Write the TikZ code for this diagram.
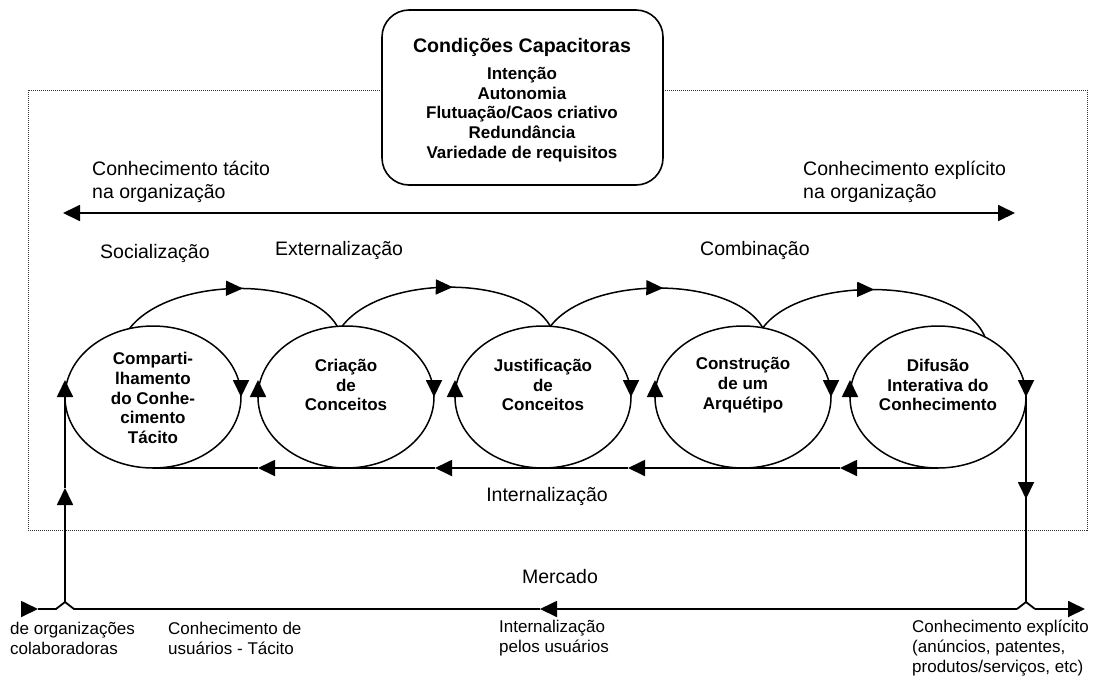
\documentclass[tikz,border=0pt]{standalone}
\usepackage{fontspec}
\setmainfont{Liberation Sans}
\usetikzlibrary{arrows.meta,shapes.geometric,decorations.markings,calc}

\begin{document}
\begin{tikzpicture}[x=1pt,y=-1pt,
  bigtri/.tip={Triangle[length=17pt,width=16pt]},
  line/.style={line width=1.8pt},
  flow/.style={line width=1.8pt,-{bigtri}},
  cyc/.style={ellipse,draw,line width=1.5pt,minimum width=176pt,minimum height=142pt,inner sep=0pt,outer sep=0pt},
  ctext/.style={font=\fontsize{17}{19.7}\selectfont\bfseries,align=center,inner sep=0pt},
  lbl/.style={font=\fontsize{19.5}{23}\selectfont,align=left,inner sep=0pt},
  small/.style={font=\fontsize{17}{20}\selectfont,align=left,inner sep=0pt},
  arcflow/.style={line width=1.5pt,postaction={decorate},
    decoration={markings,mark=at position #1 with {\arrow{Triangle[length=17pt,width=15pt]}}}},
  frame/.style={line width=1pt,dash pattern=on 1pt off 1pt,black!80}
]
\useasboundingbox (0,0) rectangle (1094,678);

% organisation boundary
\draw[frame] (28,90) rectangle (1087,530);

% enabling conditions
\node[draw,fill=white,line width=1.6pt,rounded corners=27pt,minimum width=281pt,minimum height=175pt,inner sep=0pt] (cap) at (522.5,97.5) {};
\node[font=\fontsize{19.6}{23}\selectfont\bfseries,inner sep=0pt] (captitle) at (522,47) {Condições Capacitoras};
\node[ctext] (caplist) at (522,114.5) {Intenção\\Autonomia\\Flutuação/Caos criativo\\Redundância\\Variedade de requisitos};

% tacit / explicit axis
\coordinate (axL) at (63,213);
\coordinate (axR) at (1015,213);
\draw[line,{bigtri}-{bigtri}] (axL) -- (axR);
\node[lbl,anchor=west] (ktac) at (92,181.5) {Conhecimento tácito\\na organização};
\node[lbl,anchor=west] (kexp) at (803,181.5) {Conhecimento explícito\\na organização};

\node[lbl,anchor=west] (soc) at (100,253) {Socialização};
\node[lbl,anchor=west] (ext) at (275,250) {Externalização};
\node[lbl,anchor=west] (comb) at (700,250) {Combinação};

% the five phases
\node[cyc] (e1) at (153,397) {};
\node[cyc] (e2) at (346,397) {};
\node[cyc] (e3) at (543,397) {};
\node[cyc] (e4) at (743,397) {};
\node[cyc] (e5) at (938,397) {};

\node[ctext] (t1) at (153,398) {Comparti-\\lhamento\\do Conhe-\\cimento\\Tácito};
\node[ctext] (t2) at (346,385) {Criação\\de\\Conceitos};
\node[ctext] (t3) at (543,385) {Justificação\\de\\Conceitos};
\node[ctext] (t4) at (743,385) {Construção\\de um\\Arquétipo};
\node[ctext] (t5) at (938,385) {Difusão\\Interativa do\\Conhecimento};

% arrowheads on each phase loop
\foreach \e in {e1,e2,e3,e4,e5}{
  \draw[flow] ($(\e.east)+(0,-16)$) -- (\e.east);
  \draw[flow] (\e.west) -- ($(\e.west)+(0,-17)$);
}

% transitions between phases
\draw[arcflow=0.54] (e1.109) .. controls ($(e1.109)+(40,-52)$) and ($(e2.97)+(-30,-52)$) .. (e2.97);
\draw[arcflow=0.525] (e2.93) .. controls ($(e2.93)+(40,-52)$) and ($(e3.84)+(-30,-52)$) .. (e3.84);
\draw[arcflow=0.525] (e3.84) .. controls ($(e3.84)+(40,-52)$) and ($(e4.74)+(-30,-52)$) .. (e4.74);
\draw[arcflow=0.49] (e4.74) .. controls ($(e4.74)+(40,-54)$) and ($(e5.52)+(-25,-60)$) .. (e5.52);

% internalisation return line
\coordinate (i1) at (840,468);
\coordinate (i2) at (628,468);
\coordinate (i3) at (435,468);
\coordinate (i4) at (258,468);
\draw[flow] (e5.south) -- (i1);
\draw[flow] (i1) -- (i2);
\draw[flow] (i2) -- (i3);
\draw[flow] (i3) -- (i4);
\draw[line] (i4) -- (e1.south);
\node[lbl] (intl) at (547,496) {Internalização};

% market line
\coordinate (bL) at (21,609);
\coordinate (bLtip) at (38,609);
\coordinate (hL) at (65,602);
\coordinate (hR) at (1026,602);
\coordinate (bM) at (540,609);
\coordinate (bR) at (1085,609);
\draw[flow] (bL) -- (bLtip);
\draw[line] (bLtip) -- (56,609) -- (hL) -- (74,609) -- (bM);
\draw[flow] (1017,609) -- (bM);
\draw[line] (1017,609) -- (hR) -- (1035,609);
\draw[flow] (1035,609) -- (bR);

% links between market and organisation
\coordinate (upL) at (65,488);
\draw[flow] (hL) -- (upL);
\draw[line] (upL) -- (e1.west);
\coordinate (dnR) at (1026,499);
\draw[line] (e5.east) -- (hR);
\draw[flow] (e5.east) -- (dnR);

\node[lbl] (merc) at (560,577) {Mercado};
\node[small,anchor=west] (colab) at (10,638) {de organizações\\colaboradoras};
\node[small,anchor=west] (usu) at (168,638) {Conhecimento de\\usuários - Tácito};
\node[small,anchor=west] (intu) at (499,638) {Internalização\\pelos usuários};
\node[small,anchor=west] (kexm) at (912,648) {Conhecimento explícito\\(anúncios, patentes,\\produtos/serviços, etc)};
\end{tikzpicture}
\end{document}
